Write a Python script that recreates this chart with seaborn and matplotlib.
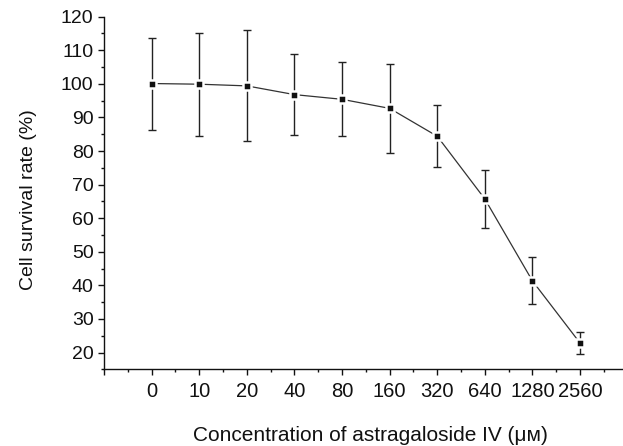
import numpy as np
import pandas as pd
import matplotlib
matplotlib.use("Agg")
import matplotlib.pyplot as plt
import seaborn as sns
from matplotlib.ticker import MultipleLocator

concentrations = ["0", "10", "20", "40", "80", "160", "320", "640", "1280", "2560"]
survival = [100.1, 99.9, 99.4, 96.8, 95.4, 92.7, 84.4, 65.7, 41.3, 22.8]
sd = [13.7, 15.3, 16.5, 12.1, 11.0, 13.3, 9.3, 8.7, 7.0, 3.2]

sns.set_theme(style="ticks")
plt.rcParams['font.family'] = ['Liberation Sans', 'DejaVu Sans']

df = pd.DataFrame({"pos": np.arange(len(concentrations)), "survival": survival, "sd": sd})

fig = plt.figure(figsize=(6.23, 4.46), dpi=100)
ax = fig.add_axes([104/623, 1 - 369.3/446, (622 - 104)/623, (369.3 - 16.7)/446])

ax.errorbar(df["pos"], df["survival"], yerr=df["sd"], fmt="none", ecolor="#222222",
            elinewidth=1.0, capsize=2.8, capthick=1.0, zorder=2)
sns.lineplot(data=df, x="pos", y="survival", ax=ax, color="#333333", linewidth=0.9,
             marker="s", markersize=6.1, markerfacecolor="#111111",
             markeredgecolor="white", markeredgewidth=1.8, zorder=3)

ax.set_xlim(-1, 9.88)
ax.set_ylim(15, 120)
ax.set_xticks(np.arange(-1, 10))
ax.set_xticklabels([""] + concentrations)
ax.xaxis.set_minor_locator(MultipleLocator(0.5))
ax.set_yticks(np.arange(20, 121, 10))
ax.yaxis.set_minor_locator(MultipleLocator(5))

for side in ["top", "right"]:
    ax.spines[side].set_visible(False)
for side in ["left", "bottom"]:
    ax.spines[side].set_linewidth(1.0)
    ax.spines[side].set_color("#111111")

ax.tick_params(axis="both", which="major", direction="out", length=4, width=1.0,
               labelsize=14, colors="#111111", pad=3.5)
ax.tick_params(axis="both", which="minor", direction="out", length=2.5, width=1.0, colors="#111111")
ax.tick_params(axis="x", which="major", pad=5, labelsize=14.5)

ax.set_xlabel("Concentration of astragaloside IV (\u03bc\u043c)", fontsize=15, color="#111111")
ax.set_ylabel("Cell survival rate (%)", fontsize=14, color="#111111")
ax.xaxis.set_label_coords(0.515, -0.162)
ax.yaxis.set_label_coords(-0.129, 0.48)

fig.savefig("out.png", dpi=100)
